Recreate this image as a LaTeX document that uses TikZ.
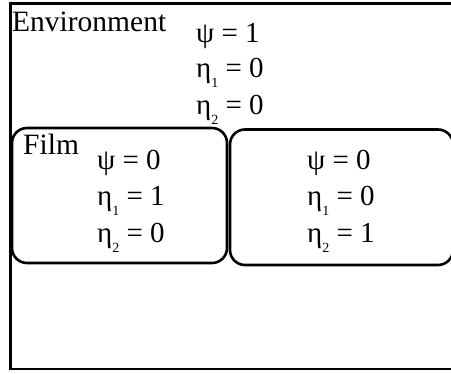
\documentclass[tikz,border=0pt]{standalone}
\usepackage{fontspec}
\setmainfont{Liberation Serif}
\newcommand{\lowsub}[1]{\raisebox{-0.32em}{\fontsize{14}{14}\selectfont #1}}
\begin{document}
\begin{tikzpicture}[x=1pt,y=-1pt,
  lbl/.style={anchor=base west,inner sep=0pt,font=\fontsize{29.5}{31}\selectfont},
  eq/.style={anchor=base west,inner sep=0pt,font=\fontsize{29}{31}\selectfont},
  frame/.style={draw=black,line width=2.6pt},
  region/.style={draw=black,line width=2.6pt,rounded corners=15pt}]
\useasboundingbox (0,0) rectangle (451,374);
% outer environment box (right edge outside the picture)
\draw[frame] (10.5,3.5) rectangle (460,369);
% film regions
\draw[region] (12,128) rectangle (227,263);
\draw[region] (230,129.5) rectangle (453,265);
% labels
\node[lbl] (env) at (12,32) {Environment};
\node[lbl] (film) at (23,155) {Film};
% environment values
\node[eq] (e1) at (196,43) {ψ = 1};
\node[eq] (e2) at (196,78) {η\lowsub{1} = 0};
\node[eq] (e3) at (196,115) {η\lowsub{2} = 0};
% left grain values
\node[eq] (a1) at (97,170) {ψ = 0};
\node[eq] (a2) at (97,206) {η\lowsub{1} = 1};
\node[eq] (a3) at (97,243) {η\lowsub{2} = 0};
% right grain values
\node[eq] (b1) at (307,170) {ψ = 0};
\node[eq] (b2) at (307,206) {η\lowsub{1} = 0};
\node[eq] (b3) at (307,243) {η\lowsub{2} = 1};
\end{tikzpicture}
\end{document}
